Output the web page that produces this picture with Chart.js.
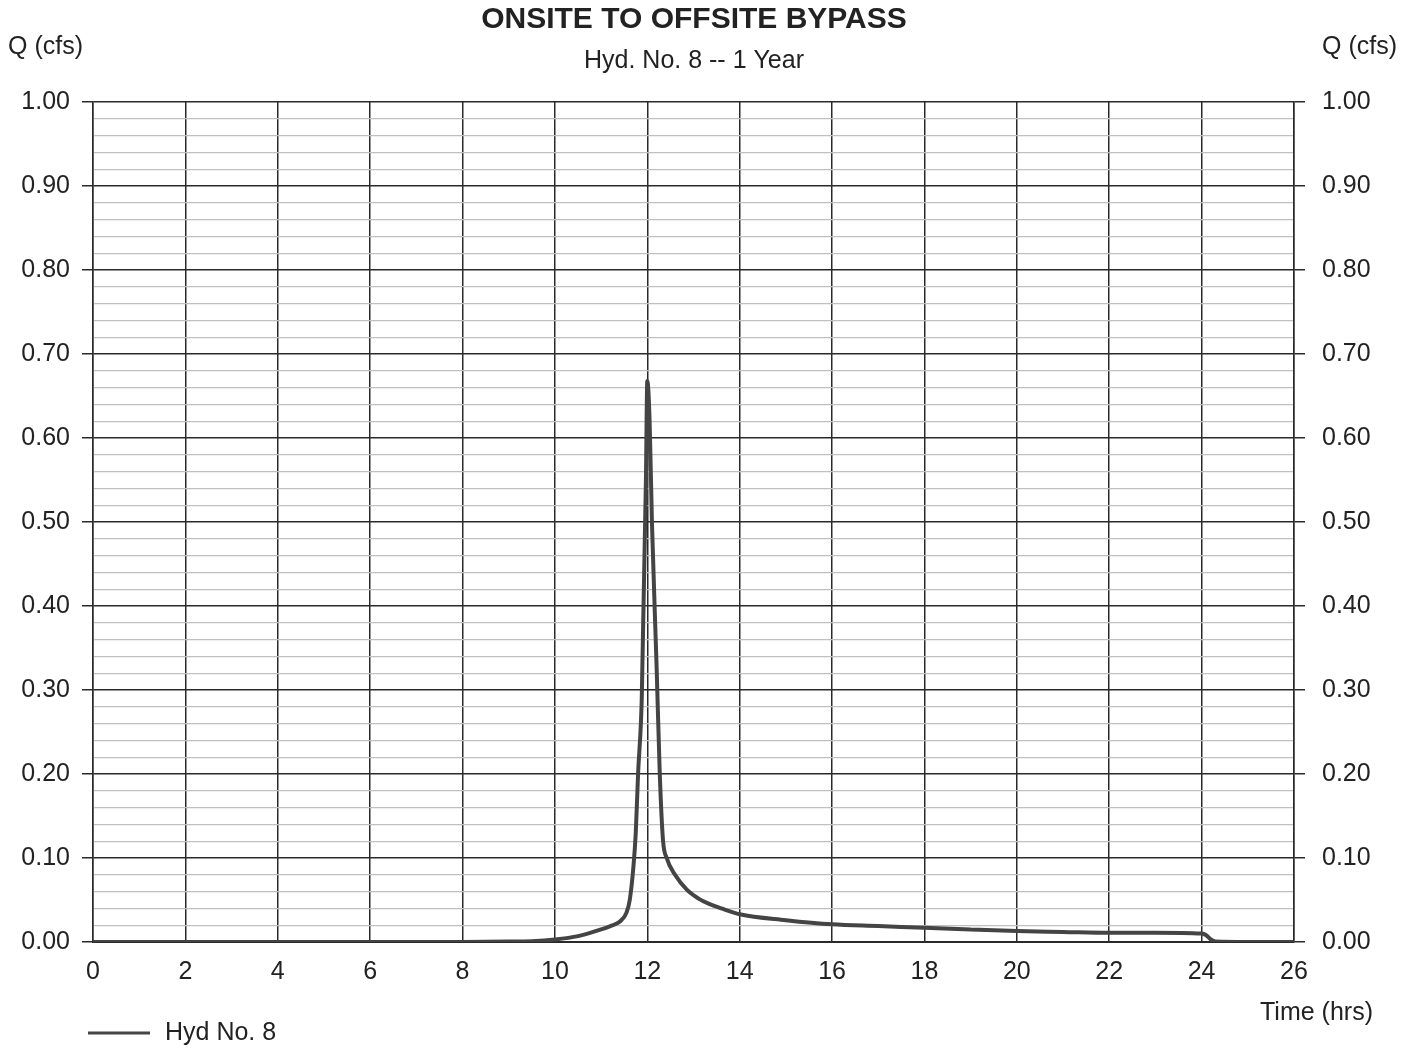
<!DOCTYPE html>
<html>
<head>
<meta charset="utf-8">
<script src="https://cdn.jsdelivr.net/npm/chart.js@4/dist/chart.umd.min.js"></script>
<style>
	html, body { margin: 0; padding: 0; background: #fff; }
	#wrap { width: 1417px; height: 1048px; }
</style>
</head>
<body>
<div id="wrap"><canvas id="chart"></canvas></div>
<script>
// hydrograph: time (hrs) and flow (cfs)
const timeHrs = [0, 2, 4, 6, 8, 9, 9.5, 10, 10.5, 11, 11.2, 11.4, 11.55, 11.62, 11.7, 11.75, 11.8, 11.88, 11.97, 12.0,
	12.05, 12.1, 12.2, 12.27, 12.34, 12.42, 12.6, 12.86, 13.1, 13.35, 13.6, 14, 15, 16, 17, 18, 19, 20, 21, 22, 23, 24,
	24.1, 24.2, 24.3, 25, 26];
const flowCfs = [0, 0, 0, 0, 0, 0.0005, 0.001, 0.003, 0.007, 0.015, 0.019, 0.024, 0.035, 0.05, 0.09, 0.13, 0.2, 0.29, 0.55, 0.668,
	0.62, 0.5, 0.33, 0.2, 0.121, 0.1, 0.08, 0.062, 0.052, 0.045, 0.04, 0.033, 0.026, 0.021, 0.019, 0.017, 0.015, 0.013, 0.012, 0.011, 0.011, 0.010,
	0.008, 0.003, 0.0005, 0, 0];
const seriesName = 'Hyd No. 8';
const chartTitle = 'ONSITE TO OFFSITE BYPASS';
const chartSubtitle = 'Hyd. No. 8 -- 1 Year';
const yLabel = 'Q (cfs)';
const xLabel = 'Time (hrs)';

const FONT = 'Arial, "Liberation Sans", sans-serif';
const MAJOR = '#2a2a2a';
const MINOR = '#c0c0c0';

const isMajor = ctx => ctx.index % 5 === 0;

// texts around the plot + legend
const decorations = {
	id: 'decorations',
	afterDraw(chart) {
		const { ctx } = chart;
		ctx.save();
		ctx.fillStyle = '#222';
		ctx.textBaseline = 'middle';

		ctx.font = `bold 30px ${FONT}`;
		ctx.textAlign = 'center';
		ctx.fillText(chartTitle, 694, 20);
		ctx.font = `25px ${FONT}`;
		ctx.fillText(chartSubtitle, 694, 61);

		ctx.textAlign = 'left';
		ctx.fillText(yLabel, 8, 47);
		ctx.fillText(yLabel, 1322, 47);
		ctx.fillText(xLabel, 1260, 1013);

		// legend
		const ds = chart.data.datasets[0];
		ctx.strokeStyle = ds.borderColor;
		ctx.lineWidth = 3;
		ctx.beginPath();
		ctx.moveTo(88, 1033);
		ctx.lineTo(150, 1033);
		ctx.stroke();
		ctx.fillText(ds.label, 165, 1033);
		ctx.restore();
	}
};

new Chart(document.getElementById('chart').getContext('2d'), {
	type: 'line',
	data: {
		datasets: [{
			label: seriesName,
			data: timeHrs.map((t, i) => ({ x: t, y: flowCfs[i] })),
			borderColor: '#444',
			borderWidth: 4,
			pointRadius: 0,
			tension: 0.2,
			cubicInterpolationMode: 'monotone',
			yAxisID: 'y'
		}]
	},
	options: {
		responsive: true,
		maintainAspectRatio: false,
		animation: false,
		layout: { padding: { top: 102, left: 0, right: 0, bottom: 0 } },
		plugins: {
			legend: { display: false },
			title: { display: false },
			tooltip: { enabled: false }
		},
		scales: {
			x: {
				type: 'linear',
				min: 0,
				max: 26,
				afterFit: s => { s.height = 106; },
				ticks: {
					stepSize: 2,
					color: '#222',
					font: { family: FONT, size: 25 },
					padding: 15,
					maxRotation: 0
				},
				grid: { color: MAJOR, lineWidth: 1.5, drawTicks: false },
				border: { color: MAJOR, width: 2 }
			},
			y: {
				position: 'left',
				min: 0,
				max: 1,
				afterFit: s => { s.width = 93; },
				ticks: {
					stepSize: 0.02,
					autoSkip: false,
					color: '#222',
					font: { family: FONT, size: 25 },
					padding: 12,
					callback: (v, i) => i % 5 === 0 ? v.toFixed(2) : ''
				},
				grid: {
					color: ctx => isMajor(ctx) ? MAJOR : MINOR,
					lineWidth: ctx => isMajor(ctx) ? 1.5 : 1.3,
					tickLength: 11,
					tickColor: ctx => isMajor(ctx) ? MAJOR : 'rgba(0,0,0,0)'
				},
				border: { color: MAJOR, width: 1.5 }
			},
			y2: {
				position: 'right',
				min: 0,
				max: 1,
				afterFit: s => { s.width = 123; },
				ticks: {
					stepSize: 0.02,
					autoSkip: false,
					color: '#222',
					font: { family: FONT, size: 25 },
					padding: 17,
					callback: (v, i) => i % 5 === 0 ? v.toFixed(2) : ''
				},
				grid: {
					drawOnChartArea: false,
					tickLength: 11,
					lineWidth: 1.5,
					color: ctx => isMajor(ctx) ? MAJOR : 'rgba(0,0,0,0)'
				},
				border: { color: MAJOR, width: 1.5 }
			}
		}
	},
	plugins: [decorations]
});
</script>
</body>
</html>
